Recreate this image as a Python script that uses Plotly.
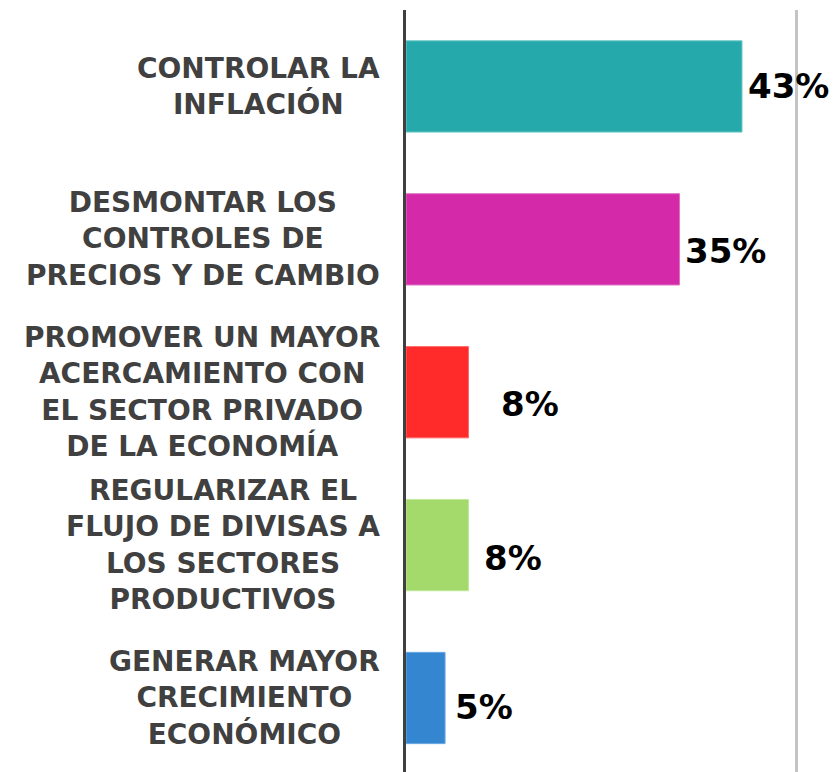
import plotly.graph_objects as go

# Survey answers: priorities for economic policy
categories = [
    "CONTROLAR LA<br>INFLACIÓN",
    "DESMONTAR LOS<br>CONTROLES DE<br>PRECIOS Y DE CAMBIO",
    "PROMOVER UN MAYOR<br>ACERCAMIENTO CON<br>EL SECTOR PRIVADO<br>DE LA ECONOMÍA",
    "REGULARIZAR EL<br>FLUJO DE DIVISAS A<br>LOS SECTORES<br>PRODUCTIVOS",
    "GENERAR MAYOR<br>CRECIMIENTO<br>ECONÓMICO",
]
values = [43, 35, 8, 8, 5]
value_labels = ["43%", "35%", "8%", "8%", "5%"]

bar_colors = ["#26A9AA", "#D42AA9", "#FF2A2A", "#A4D96C", "#3586D0"]
edge_colors = ["#6CC8C8", "#E070C4", "#FF6A6A", "#C2E89A", "#6AA8E4"]

# pixel nudges for the percentage labels (x, y)
label_nudge = [(4, 0), (3, -12), (30, -12), (13, -13), (8, -9)]

fig = go.Figure()
fig.add_trace(go.Bar(
    y=categories,
    x=values,
    orientation="h",
    marker=dict(color=bar_colors, line=dict(color=edge_colors, width=1)),
    hoverinfo="skip",
))

annotations = []
for cat in categories:
    annotations.append(dict(
        x=0, y=cat, xref="x", yref="y",
        text=cat, showarrow=False,
        xanchor="right", yanchor="middle", align="center",
        xshift=-24,
        font=dict(family="DejaVu Sans", size=28, color="#404040", weight="bold"),
    ))
for cat, val, lab, (dx, dy) in zip(categories, values, value_labels, label_nudge):
    annotations.append(dict(
        x=val, y=cat, xref="x", yref="y",
        text=lab, showarrow=False,
        xanchor="left", yanchor="middle",
        xshift=dx, yshift=dy,
        font=dict(family="DejaVu Sans", size=34, color="#000000", weight="bold"),
    ))

fig.update_layout(
    width=835, height=772,
    margin=dict(l=406, r=0, t=10, b=0),
    paper_bgcolor="white", plot_bgcolor="white",
    showlegend=False,
    bargap=0.403,
    annotations=annotations,
    xaxis=dict(
        range=[0, 54.9], tickvals=[50], showticklabels=False,
        showgrid=True, gridcolor="#C4C4C4", gridwidth=3,
        zeroline=False, showline=False, fixedrange=True,
    ),
    yaxis=dict(
        range=[4.484, -0.5], showticklabels=False, ticks="",
        showline=True, linecolor="#404040", linewidth=3,
        showgrid=False, zeroline=False, fixedrange=True,
    ),
)

fig.write_html("out.html")
